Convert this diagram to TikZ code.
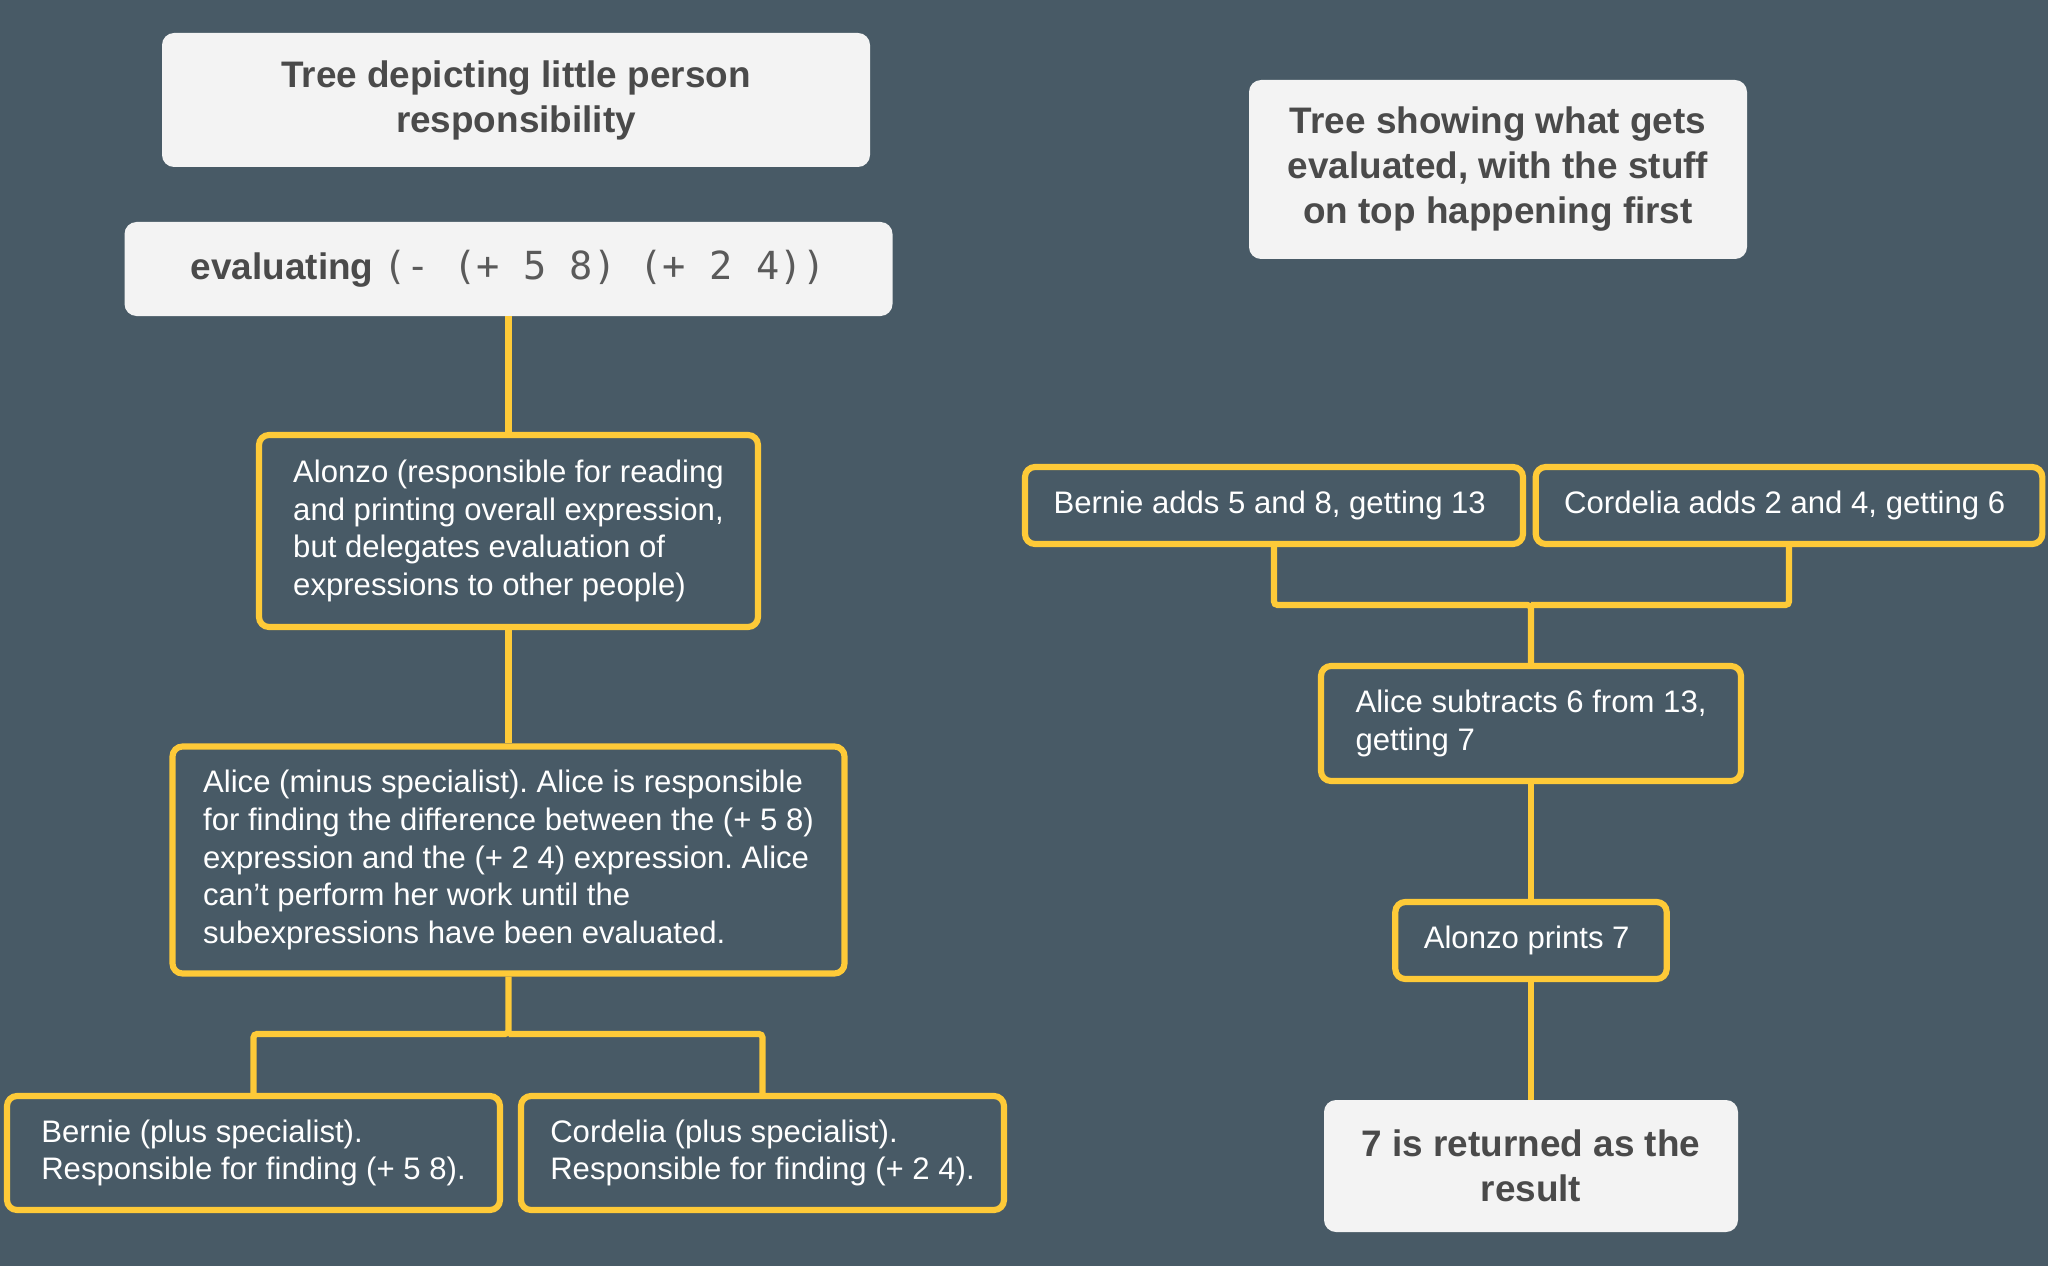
\documentclass[tikz,border=0pt]{standalone}
\usepackage{fontspec}
\setmainfont{Liberation Sans}
\newfontfamily\codefont{DejaVu Sans Mono}
\frenchspacing
\definecolor{slatebg}{RGB}{72,90,102}
\definecolor{boxyellow}{RGB}{254,202,56}
\definecolor{headfill}{RGB}{243,243,243}
\definecolor{headtext}{RGB}{74,74,74}
\definecolor{codetext}{RGB}{90,90,90}
\begin{document}
\begin{tikzpicture}
        % Define styles
        \tikzstyle{heading}=[rectangle, fill=headfill, text=headtext, rounded corners=0.24cm, align=center, font=\fontsize{21}{25.6}\selectfont\bfseries]
        \tikzstyle{person}=[rectangle, draw=boxyellow, line width=3.5pt, rounded corners=0.2cm, fill=slatebg, text=white, align=left, inner xsep=0.57cm, font=\fontsize{17.7}{21.5}\selectfont]
        \tikzstyle{link}=[draw=boxyellow, line width=3.5pt, rounded corners=2pt]

        % Background
        \fill[slatebg] (0,0) rectangle (40.96,-25.32);
        \useasboundingbox (0,0) rectangle (40.96,-25.32);

        % Left tree: little person responsibility
        \node[heading, minimum width=14.16cm, minimum height=2.68cm] (lefttitle) at (10.32,-2.00) {
            Tree depicting little person\\
            responsibility
        };
        \node[heading, minimum width=15.36cm, minimum height=1.88cm] (evaluating) at (10.17,-5.38) {
            \hspace{0.2cm}evaluating {\codefont\mdseries\fontsize{22}{26}\selectfont\color{codetext}(- (+ 5 8) (+ 2 4))}
        };
        \node[person, minimum width=9.98cm, minimum height=3.84cm] (alonzo) at (10.17,-10.62) {
            Alonzo (responsible for reading\\
            and printing overall expression,\\
            but delegates evaluation of\\
            expressions to other people)
        };
        \node[person, minimum width=13.44cm, minimum height=4.54cm] (alice) at (10.17,-17.20) {
            Alice (minus specialist). Alice is responsible\\
            for finding the difference between the (+ 5 8)\\
            expression and the (+ 2 4) expression. Alice\\
            can't perform her work until the\\
            subexpressions have been evaluated.
        };
        \node[person, minimum width=9.86cm, minimum height=2.28cm] (bernie) at (5.07,-23.06) {
            Bernie (plus specialist).\\
            Responsible for finding (+ 5 8).
        };
        \node[person, minimum width=9.66cm, minimum height=2.28cm] (cordelia) at (15.25,-23.06) {
            Cordelia (plus specialist).\\
            Responsible for finding (+ 2 4).
        };

        % Right tree: order of evaluation
        \node[heading, minimum width=9.96cm, minimum height=3.58cm] (righttitle) at (29.96,-3.39) {
            Tree showing what gets\\
            evaluated, with the stuff\\
            on top happening first
        };
        \node[person, minimum width=9.84cm, minimum height=1.54cm] (bernieadds) at (25.48,-10.11) {
            Bernie adds 5 and 8, getting 13
        };
        \node[person, minimum width=9.96cm, minimum height=1.54cm] (cordeliaadds) at (35.78,-10.11) {
            Cordelia adds 2 and 4, getting 6
        };
        \node[person, minimum width=8.40cm, minimum height=2.30cm] (alicesubtracts) at (30.62,-14.47) {
            Alice subtracts 6 from 13,\\
            getting 7
        };
        \node[person, minimum width=5.28cm, minimum height=1.54cm] (alonzoprints) at (30.62,-18.81) {
            Alonzo prints 7
        };
        \node[heading, minimum width=8.28cm, minimum height=2.64cm] (result) at (30.62,-23.32) {
            7 is returned as the\\
            result
        };

        % Junctions
        \coordinate (leftsplit) at (10.17,-20.68);
        \coordinate (rightjoin) at (30.62,-12.10);

        % Connectors
        \draw[link] (evaluating.south) -- (alonzo.north);
        \draw[link] (alonzo.south) -- (alice.north);
        \draw[link] (alice.south) -- (leftsplit) -| (bernie.north);
        \draw[link] (leftsplit) -| (cordelia.north);
        \draw[link] (bernieadds.south) |- (rightjoin) -- (alicesubtracts.north);
        \draw[link] (cordeliaadds.south) |- (rightjoin);
        \draw[link] (alicesubtracts.south) -- (alonzoprints.north);
        \draw[link] (alonzoprints.south) -- (result.north);
    \end{tikzpicture}
\end{document}
